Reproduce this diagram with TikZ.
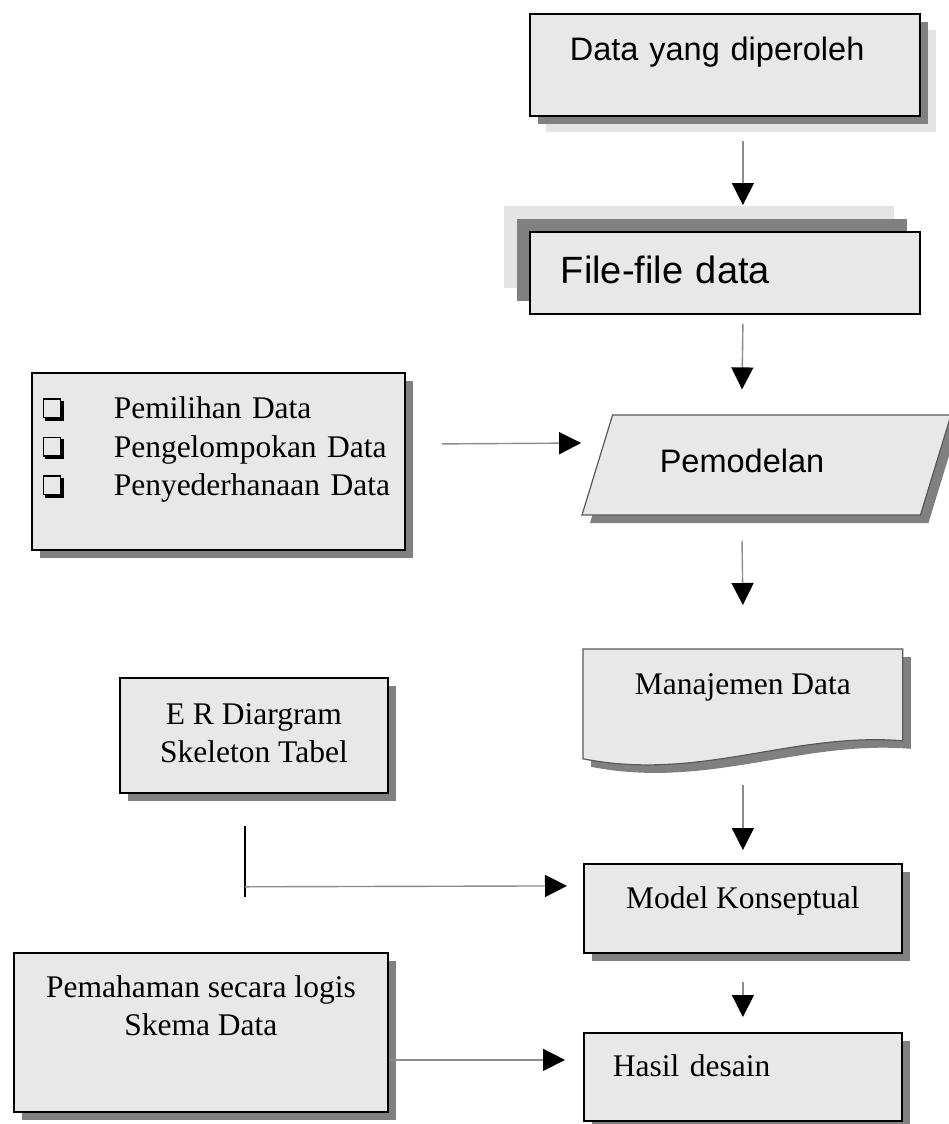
\documentclass[tikz,border=0pt]{standalone}
\usepackage{fontspec}
\setmainfont{Liberation Serif}
\newfontfamily\arialfont{Liberation Sans}
\usetikzlibrary{shapes.geometric, arrows.meta, positioning, shadows, backgrounds}
\definecolor{boxgray}{RGB}{232,232,232}
\definecolor{shadegray}{RGB}{128,128,128}
\definecolor{palegray}{RGB}{228,228,228}
\definecolor{linegray}{RGB}{140,140,140}
\newcommand\serifbig{\fontsize{31.5}{38.5}\selectfont}
\newcommand\sansbig{\arialfont\fontsize{32.5}{38}\selectfont}
\newcommand\qbullet{\tikz[baseline=0pt]{\draw[black, fill=none, line width=1.3pt] (0pt,1.5pt) rectangle (17pt,20pt); \draw[black, fill=none, line width=3.2pt] (1pt,-0.2pt) -- (18.6pt,-0.2pt) -- (18.6pt,18pt);}}
\tikzset{
  % flowchart styles
  plainbox/.style={rectangle, draw=black, line width=1.8pt, fill=boxgray, anchor=north west, inner ysep=0pt, font=\serifbig},
  flowbox/.style={plainbox, drop shadow={shadow xshift=8pt, shadow yshift=-8pt, fill=shadegray, opacity=1}},
  arrow/.style={draw=linegray, line width=1.4pt, -{Triangle[length=22pt, width=22pt, black]}},
}
\begin{document}
\begin{tikzpicture}[x=1pt, y=-1pt]
  \useasboundingbox (0,0) rectangle (949,1124);

  % main column
  \node[plainbox, font=\sansbig, inner xsep=40pt, text width=310pt, align=left, text height=47pt, text depth=55pt,
        drop shadow={shadow xshift=16pt, shadow yshift=-16pt, fill=palegray, opacity=1},
        drop shadow={shadow xshift=8pt, shadow yshift=-8pt, fill=shadegray, opacity=1}]
    (data) at (529,13) {Data yang diperoleh};

  \node[plainbox, font={\arialfont\fontsize{38}{44}\selectfont}, inner xsep=31pt, text width=328pt, align=left, text height=52pt, text depth=30pt,
        drop shadow={shadow xshift=-26pt, shadow yshift=26pt, fill=palegray, opacity=1},
        drop shadow={shadow xshift=-13pt, shadow yshift=13pt, fill=shadegray, opacity=1}]
    (files) at (529,231) {File-file data};

  \node[trapezium, trapezium left angle=73, trapezium right angle=107, trapezium stretches body,
        draw=black!65, line width=1.2pt, fill=boxgray, minimum width=369pt, minimum height=100pt,
        inner ysep=0pt, text height=57pt, text depth=43pt, font=\sansbig,
        drop shadow={shadow xshift=8pt, shadow yshift=-8pt, fill=shadegray, opacity=1}]
    (pemod) at (766.5,465) {Pemodelan\hspace*{49pt}};

  \node[plainbox, draw=none, fill=none, minimum width=318pt, text height=45pt, text depth=63pt]
    (manaj) at (583,649) {Manajemen Data};
  \begin{scope}[on background layer]
    \fill[white] (0,0) rectangle (949,1124);
    \begin{scope}[transform canvas={xshift=8pt, yshift=-8pt}]
      \fill[shadegray] (manaj.north west) -- (manaj.north east) -- ([yshift=18pt]manaj.south east)
        .. controls ([xshift=-111pt, yshift=27pt]manaj.south east) and ([xshift=117pt, yshift=-23pt]manaj.south west) .. (manaj.south west) -- cycle;
    \end{scope}
    \filldraw[fill=boxgray, draw=black!65, line width=1.2pt] (manaj.north west) -- (manaj.north east) -- ([yshift=18pt]manaj.south east)
      .. controls ([xshift=-111pt, yshift=27pt]manaj.south east) and ([xshift=117pt, yshift=-23pt]manaj.south west) .. (manaj.south west) -- cycle;
  \end{scope}

  \node[flowbox, minimum width=318pt, text height=45pt, text depth=44pt]
    (model) at (583,863) {Model Konseptual};

  \node[flowbox, inner xsep=29pt, text width=260pt, align=left, text height=44pt, text depth=44pt]
    (hasil) at (583,1032) {Hasil desain};

  % side inputs
  \node[flowbox, inner xsep=11pt, text width=351pt, align=left, text height=46pt, text depth=131pt]
    (pilih) at (31,372) {\qbullet\hspace{50pt}Pemilihan Data\\
                         \qbullet\hspace{50pt}Pengelompokan Data\\
                         \qbullet\hspace{50pt}Penyederhanaan Data};

  \node[flowbox, minimum width=268pt, align=center, text height=85pt, text depth=30pt]
    (er) at (119,677) {E R Diargram\\Skeleton Tabel};

  \node[flowbox, minimum width=374pt, align=center, text height=83pt, text depth=76pt]
    (logis) at (13,952) {Pemahaman secara logis\\Skema Data};

  % connectors
  \draw[arrow] ([xshift=18pt, yshift=-24pt]data.south) -- ([xshift=18pt, yshift=26pt]files.north);
  \draw[arrow] ([xshift=18pt, yshift=-9pt]files.south) -- ([xshift=-24.5pt, yshift=25pt]pemod.north);
  \draw[arrow] ([xshift=-24.5pt, yshift=-25pt]pemod.south) -- ([yshift=44pt]manaj.north);
  \draw[arrow] ([yshift=-26pt]manaj.south) -- ([yshift=13pt]model.north);
  \draw[arrow] ([yshift=-28pt]model.south) -- ([yshift=15pt]hasil.north);

  \draw[arrow] ([xshift=36pt, yshift=17.5pt]pilih.east) -- ([xshift=-15.5pt, yshift=22pt]pemod.west);

  \coordinate (erjoint) at ([xshift=-9pt, yshift=-93pt]er.south);
  \draw[black, line width=1.6pt] ([xshift=-9pt, yshift=-32pt]er.south) -- ([xshift=-9pt, yshift=-103pt]er.south);
  \draw[arrow] (erjoint) -- ([xshift=-16pt, yshift=22.5pt]model.west);

  \draw[arrow] ([yshift=-27.5pt]logis.east) -- ([xshift=-18pt, yshift=17pt]hasil.west);
\end{tikzpicture}
\end{document}
